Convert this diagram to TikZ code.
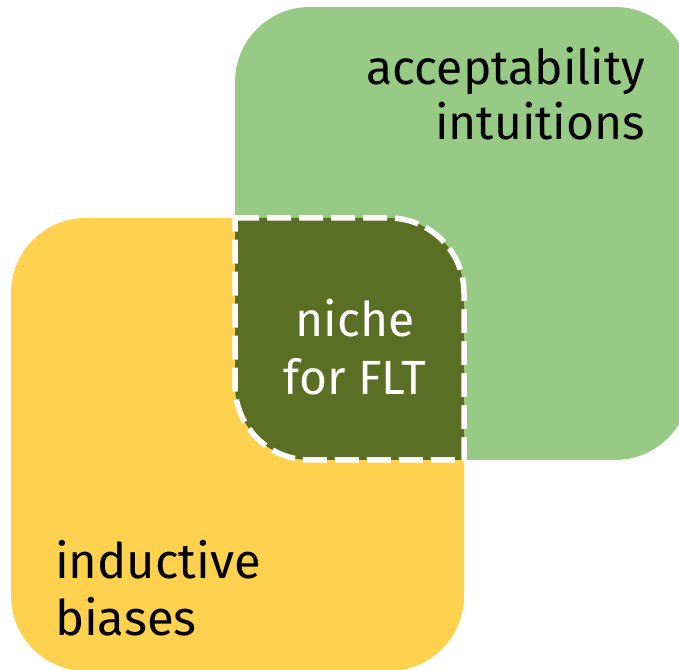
\documentclass[tikz,border=0pt]{standalone}
\usepackage{fontspec}
\setmainfont{Fira Sans}
\definecolor{accgreen}{HTML}{97CA85}
\definecolor{indyellow}{HTML}{FED14E}
\definecolor{nichegreen}{HTML}{5A6E24}
\tikzset{
  lbl/.style={inner sep=0pt, outer sep=0pt, text=black},
}
\begin{document}
\begin{tikzpicture}[x=1pt,y=1pt]
\useasboundingbox (0,0) rectangle (679,669);
\clip (0,0) rectangle (679,669);
\fill[accgreen, rounded corners=75pt] (235,209) rectangle (690,662);
\fill[indyellow, rounded corners=75pt] (11,-2) rectangle (464,451);
\path[fill=nichegreen, draw=white, line width=5.5pt, dash pattern=on 24pt off 8pt]
  (235,451) -- (389,451) arc[start angle=90, end angle=0, radius=75pt]
  -- (464,209) -- (310,209) arc[start angle=270, end angle=180, radius=75pt]
  -- (235,284) -- cycle;
\node[lbl, align=right, anchor=base east, font=\fontsize{48}{55}\selectfont] (acc) at (645,529) {acceptability\\intuitions};
\node[lbl, align=center, anchor=base, font=\fontsize{48}{58}\selectfont, text=white] (niche) at (355,274) {niche\\for FLT};
\node[lbl, align=left, anchor=base west, font=\fontsize{49}{57}\selectfont] (ind) at (55,34) {inductive\\biases};
\end{tikzpicture}
\end{document}
